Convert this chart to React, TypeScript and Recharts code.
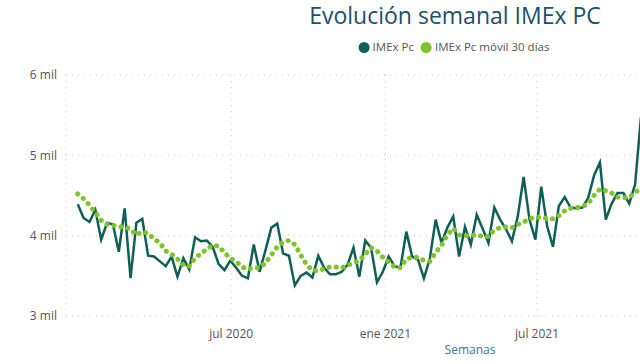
import React from "react";
import { LineChart, Line, XAxis, YAxis, CartesianGrid } from "recharts";

// weekly points (Tuesdays) from end of 2019 to early Nov 2021
const weeks = [
  "2019-12-31",
  "2020-01-07", "2020-01-14", "2020-01-21", "2020-01-28",
  "2020-02-04", "2020-02-11", "2020-02-18", "2020-02-25",
  "2020-03-03", "2020-03-10", "2020-03-17", "2020-03-24", "2020-03-31",
  "2020-04-07", "2020-04-14", "2020-04-21", "2020-04-28",
  "2020-05-05", "2020-05-12", "2020-05-19", "2020-05-26",
  "2020-06-02", "2020-06-09", "2020-06-16", "2020-06-23", "2020-06-30",
  "2020-07-07", "2020-07-14", "2020-07-21", "2020-07-28",
  "2020-08-04", "2020-08-11", "2020-08-18", "2020-08-25",
  "2020-09-01", "2020-09-08", "2020-09-15", "2020-09-22", "2020-09-29",
  "2020-10-06", "2020-10-13", "2020-10-20", "2020-10-27",
  "2020-11-03", "2020-11-10", "2020-11-17", "2020-11-24",
  "2020-12-01", "2020-12-08", "2020-12-15", "2020-12-22", "2020-12-29",
  "2021-01-05", "2021-01-12", "2021-01-19", "2021-01-26",
  "2021-02-02", "2021-02-09", "2021-02-16", "2021-02-23",
  "2021-03-02", "2021-03-09", "2021-03-16", "2021-03-23", "2021-03-30",
  "2021-04-06", "2021-04-13", "2021-04-20", "2021-04-27",
  "2021-05-04", "2021-05-11", "2021-05-18", "2021-05-25",
  "2021-06-01", "2021-06-08", "2021-06-15", "2021-06-22", "2021-06-29",
  "2021-07-06", "2021-07-13", "2021-07-20", "2021-07-27",
  "2021-08-03", "2021-08-10", "2021-08-17", "2021-08-24", "2021-08-31",
  "2021-09-07", "2021-09-14", "2021-09-21", "2021-09-28",
  "2021-10-05", "2021-10-12", "2021-10-19", "2021-10-26",
  "2021-11-02",
];

const imexPc = [
  4390, 4220, 4170, 4320, 3950, 4160, 4140, 3800, 4340, 3470,
  4160, 4210, 3750, 3740, 3680, 3620, 3740, 3490, 3720, 3580,
  3980, 3930, 3940, 3860, 3650, 3570, 3690, 3600, 3500, 3470,
  3890, 3550, 3820, 4100, 4150, 3780, 3750, 3380, 3500, 3540,
  3480, 3750, 3600, 3520, 3520, 3550, 3640, 3850, 3490, 3940,
  3850, 3420, 3550, 3740, 3620, 3600, 4050, 3740, 3700, 3470,
  3710, 4200, 3910, 4100, 4240, 3740, 4110, 3890, 4260, 4090,
  3910, 4350, 4200, 4080, 3930, 4240, 4730, 4200, 3950, 4610,
  4120, 3860, 4370, 4480, 4350, 4340, 4350, 4470, 4750, 4910,
  4200, 4400, 4530, 4530, 4400, 4640, 5480,
];

const imexPcMovil = [
  4520, 4460, 4380, 4290, 4190, 4140, 4130, 4110, 4110, 4080,
  4010, 4050, 4030, 3960, 3910, 3810, 3770, 3710, 3630, 3620,
  3720, 3780, 3830, 3880, 3870, 3790, 3720, 3680, 3610, 3580,
  3600, 3600, 3660, 3760, 3860, 3920, 3940, 3890, 3760, 3640,
  3570, 3560, 3590, 3610, 3610, 3600, 3630, 3660, 3690, 3770,
  3850, 3810, 3730, 3670, 3610, 3600, 3710, 3730, 3730, 3690,
  3680, 3790, 3880, 4010, 4090, 4010, 4000, 4000, 4010, 3990,
  3990, 4070, 4100, 4110, 4100, 4140, 4170, 4210, 4230, 4230,
  4210, 4210, 4250, 4310, 4340, 4350, 4360, 4400, 4500, 4580,
  4560, 4530, 4480, 4470, 4480, 4530, 4610,
];

const tickDates = ["2020-07-01", "2021-01-01", "2021-07-01"];
const tickLabels = ["jul 2020", "ene 2021", "jul 2021"];
const yTicks = [3000, 4000, 5000, 6000];

const dayNum = (s: string) => {
  const [y, m, d] = s.split("-").map(Number);
  return (Date.UTC(y, m - 1, d) - Date.UTC(2020, 0, 1)) / 86400000;
};

const data = weeks.map((w, i) => ({
  day: dayNum(w),
  imex: imexPc[i],
  movil: imexPcMovil[i],
}));

const xTicks = tickDates.map(dayNum);

const DARK = "#0f5f57";
const LIGHT = "#7fc42c";
const FONT = "'Open Sans', 'Noto Sans', sans-serif";

export default function App() {
  return (
    <div
      style={{
        position: "absolute",
        left: 0,
        top: 0,
        width: 640,
        height: 364,
        overflow: "hidden",
        background: "#fff",
        fontFamily: FONT,
      }}
    >
      <div
        style={{
          position: "absolute",
          left: 455,
          top: 1,
          transform: "translateX(-50%)",
          whiteSpace: "nowrap",
          fontSize: 23,
          color: "#21506a",
          lineHeight: "28px",
        }}
      >
        Evolución semanal IMEx PC
      </div>
      <div
        style={{
          position: "absolute",
          left: 454,
          top: 39,
          transform: "translateX(-50%)",
          whiteSpace: "nowrap",
          fontSize: 11.5,
          color: "#555",
          display: "flex",
          alignItems: "center",
          lineHeight: "16px",
        }}
      >
        <span style={{ width: 11, height: 11, borderRadius: 6, background: DARK, marginRight: 3 }} />
        <span style={{ marginRight: 7 }}>IMEx Pc</span>
        <span style={{ width: 11, height: 11, borderRadius: 6, background: LIGHT, marginRight: 3 }} />
        <span>IMEx Pc móvil 30 días</span>
      </div>
      <div
        style={{
          position: "absolute",
          left: 470,
          top: 341,
          transform: "translateX(-50%)",
          fontSize: 12,
          color: "#3b7890",
        }}
      >
        Semanas
      </div>
      <LineChart
        width={880}
        height={364}
        data={data}
        margin={{ top: 75, right: 6, bottom: 18, left: 0 }}
      >
        <CartesianGrid stroke="#c4c4c4" strokeDasharray="1 5" />
        <XAxis
          dataKey="day"
          type="number"
          domain={[-15, 949]}
          ticks={xTicks}
          tickFormatter={(v: number) => tickLabels[xTicks.indexOf(v)]}
          axisLine={false}
          tickLine={false}
          tickSize={0}
          tickMargin={13}
          height={30}
          tick={{ fill: "#555", fontSize: 12, fontFamily: FONT }}
        />
        <YAxis
          domain={[3000, 6000]}
          ticks={yTicks}
          tickFormatter={(v: number) => `${v / 1000} mil`}
          axisLine={false}
          tickLine={false}
          tickSize={0}
          tickMargin={9}
          width={66}
          tick={{ fill: "#555", fontSize: 12, fontFamily: FONT }}
        />
        <Line
          dataKey="imex"
          type="linear"
          stroke={DARK}
          strokeWidth={2.5}
          dot={false}
          isAnimationActive={false}
        />
        <Line
          dataKey="movil"
          type="linear"
          stroke={LIGHT}
          strokeWidth={5}
          strokeDasharray="0.1 7"
          strokeLinecap="round"
          dot={false}
          isAnimationActive={false}
        />
      </LineChart>
    </div>
  );
}
